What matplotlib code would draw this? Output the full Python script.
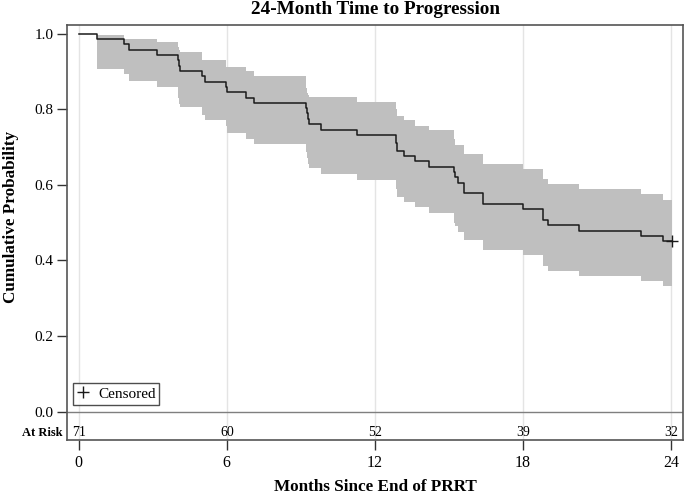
import matplotlib
matplotlib.use("Agg")
import matplotlib.pyplot as plt
from matplotlib.lines import Line2D
import numpy as np

plt.rcParams['font.family'] = ['Liberation Serif', 'DejaVu Serif']

title = "24-Month Time to Progression"
xlabel = "Months Since End of PRRT"
ylabel = "Cumulative Probability"

# step change times (months) and values after each step
step_times = [0.74, 1.84, 2.04, 3.19, 4.03, 4.06, 4.10, 5.01, 5.10, 5.95, 6.00, 6.76, 7.09,
              9.20, 9.25, 9.30, 9.35, 9.81, 11.26, 12.84, 12.92, 13.19, 13.62, 14.20,
              15.21, 15.26, 15.38, 15.62, 16.39, 18.02, 18.82, 19.03, 20.28, 22.81, 23.69]
surv = [0.986, 0.972, 0.958, 0.944, 0.930, 0.915, 0.901, 0.887, 0.873, 0.859, 0.845, 0.831, 0.817,
        0.803, 0.789, 0.775, 0.761, 0.746, 0.732, 0.710, 0.690, 0.676, 0.662, 0.648,
        0.634, 0.620, 0.606, 0.577, 0.549, 0.535, 0.507, 0.493, 0.479, 0.465, 0.451]
upper = [0.997, 0.986, 0.986, 0.977, 0.965, 0.958, 0.951, 0.931, 0.931, 0.911, 0.911, 0.900, 0.889,
         0.855, 0.843, 0.838, 0.832, 0.832, 0.820, 0.800, 0.782, 0.772, 0.756, 0.745,
         0.720, 0.706, 0.706, 0.681, 0.655, 0.642, 0.615, 0.602, 0.588, 0.575, 0.560]
lower = [0.906, 0.894, 0.875, 0.858, 0.830, 0.815, 0.806, 0.785, 0.772, 0.755, 0.738, 0.722, 0.707,
         0.688, 0.670, 0.655, 0.644, 0.629, 0.614, 0.590, 0.569, 0.555, 0.540, 0.525,
         0.500, 0.490, 0.475, 0.455, 0.427, 0.413, 0.385, 0.372, 0.358, 0.346, 0.332]
end_time = 24.03
censor_times = [24.03]
censor_vals = [0.451]

risk_times = [0, 6, 12, 18, 24]
risk_counts = [71, 60, 52, 39, 32]
xticks = [0, 6, 12, 18, 24]
yticks = [0.0, 0.2, 0.4, 0.6, 0.8, 1.0]

fig = plt.figure(figsize=(6.85, 4.97), dpi=100)
ax = fig.add_axes([0.098, 0.115, 0.899, 0.834])

ymin, ymax = -0.075, 1.022
ax.set_xlim(-0.47, 24.49)
ax.set_ylim(ymin, ymax)

for xt in xticks:
    ax.axvline(xt, color='#e4e4e4', lw=1.0, zorder=0)

# confidence band
bt = step_times + [end_time]
bu = upper + [upper[-1]]
bl = lower + [lower[-1]]
ax.fill_between(bt, bl, bu, step='post', color='#bfbfbf', lw=0, zorder=1)

# survival curve
ct = [0] + step_times + [end_time]
cs = [1.0] + surv + [surv[-1]]
ax.step(ct, cs, where='post', color='#1a1a1a', lw=1.1, zorder=3)
ax.plot(censor_times, censor_vals, ls='none', marker='+', ms=9, mew=1.0, color='#1a1a1a', zorder=4)

ax.axhline(0.0, color='#7f7f7f', lw=1.0, zorder=2)

# at-risk row
risk_y = -0.056
for t, n in zip(risk_times, risk_counts):
    ax.text(t, risk_y, str(n), ha='center', va='center', fontsize=10)
ax.text(-0.007, risk_y, "At Risk", transform=ax.get_yaxis_transform(), ha='right', va='center',
        fontsize=9, fontweight='bold')

ax.set_xticks(xticks)
ax.set_xticklabels([str(x) for x in xticks], fontsize=11.5)
ax.set_yticks(yticks)
ax.set_yticklabels([f"{y:.1f}" for y in yticks], fontsize=11)
ax.tick_params(direction='out', length=7, width=1.0, color='#333333')
ax.tick_params(axis='x', pad=4)
ax.tick_params(axis='y', pad=3)

for sp in ax.spines.values():
    sp.set_color('#555555')
    sp.set_linewidth(1.2)

ax.set_title(title, fontsize=13.8, fontweight='bold', pad=8)
ax.set_xlabel(xlabel, fontsize=12.3, fontweight='bold', labelpad=6)
ax.set_ylabel(ylabel, fontsize=12.3, fontweight='bold')
ax.yaxis.set_label_coords(-0.078, (0.515 - ymin) / (ymax - ymin))

handle = Line2D([], [], ls='none', marker='+', ms=8, mew=1.0, color='#1a1a1a')
leg = ax.legend([handle], ['Censored'], loc='lower left', bbox_to_anchor=(0.009, 0.085),
                borderaxespad=0, fontsize=11, frameon=True, fancybox=False,
                handlelength=0.8, handletextpad=0.6, borderpad=0.25)
leg.get_frame().set_edgecolor('#222222')
leg.get_frame().set_linewidth(1.0)

fig.savefig("out.png", dpi=100)
